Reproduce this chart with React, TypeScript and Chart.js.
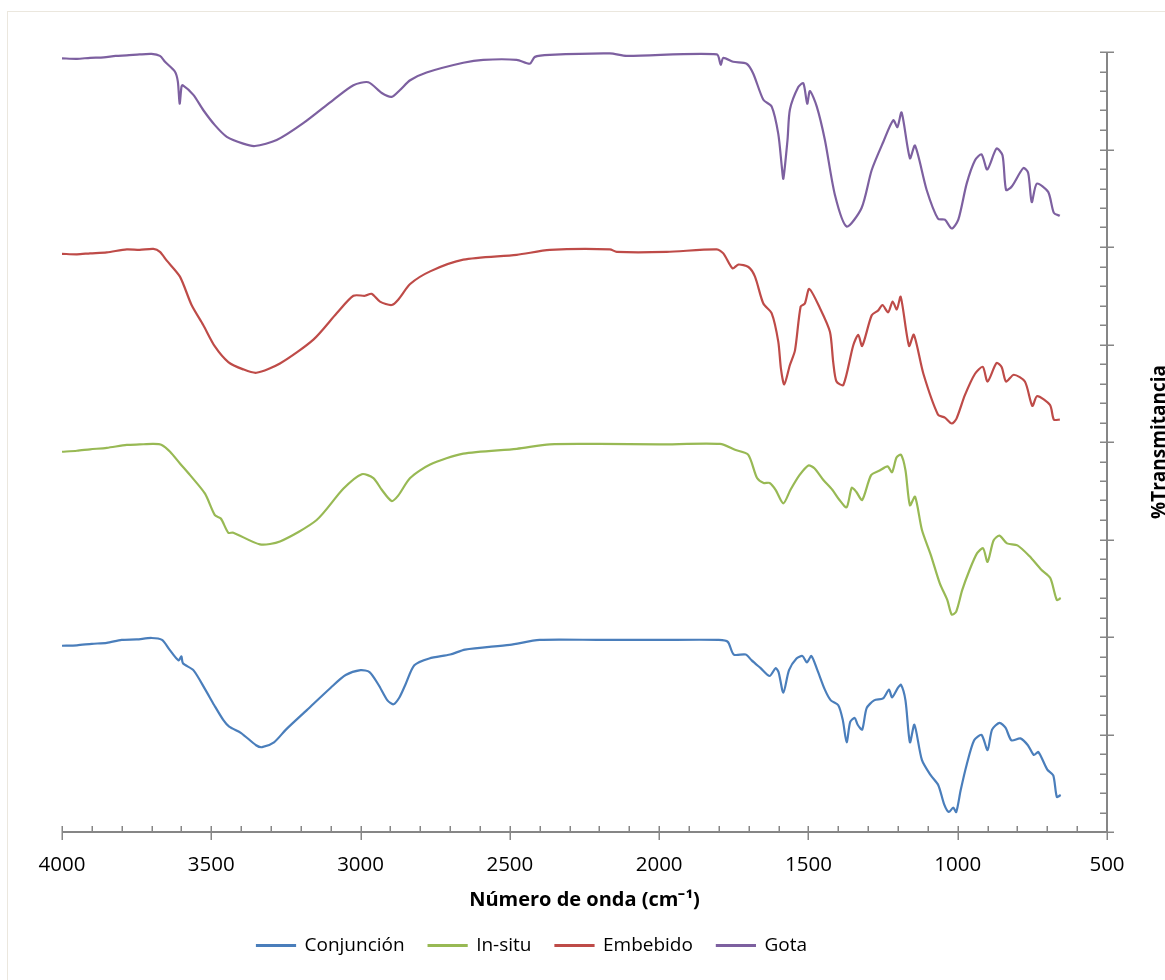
import React, { useEffect, useRef } from "react";
import { Chart, registerables } from "chart.js";

Chart.register(...registerables);

// ---------- DATA ----------
const SERIES_NAMES = ["Conjunción", "In-situ", "Embebido", "Gota"];
const SERIES_COLORS = ["#4a7ebb", "#98b954", "#be4b48", "#7d60a0"];

const X_MIN = 500;
const X_MAX = 4000;
const X_MAJOR = 500;
const X_MINOR = 100;
const Y_MIN = 0;
const Y_MAX = 80;
const Y_MAJOR = 10;
const Y_MINOR = 2;

const X_TITLE = "Número de onda (cm⁻¹)";
const Y_TITLE = "%Transmitancia";

const conjWn = [4000, 3950, 3900, 3850, 3800, 3750, 3700, 3665, 3640, 3610, 3600, 3595, 3560, 3520, 3490, 3460, 3440, 3400, 3350, 3330, 3290, 3250, 3180, 3100, 3050, 3000, 2970, 2940, 2910, 2890, 2870, 2850, 2820, 2770, 2700, 2650, 2500, 2400, 2200, 2000, 1800, 1770, 1750, 1710, 1690, 1660, 1630, 1610, 1600, 1584, 1565, 1540, 1520, 1505, 1490, 1470, 1445, 1425, 1400, 1385, 1372, 1360, 1345, 1335, 1320, 1305, 1280, 1250, 1230, 1220, 1200, 1190, 1175, 1160, 1145, 1120, 1090, 1065, 1045, 1030, 1015, 1005, 990, 970, 945, 920, 900, 885, 860, 840, 820, 790, 765, 745, 730, 700, 680, 668, 655];
const conjVal = [19.1, 19.15, 19.3, 19.4, 19.7, 19.75, 19.9, 19.7, 18.7, 17.6, 18.0, 17.3, 16.6, 14.6, 13.0, 11.5, 10.8, 10.15, 8.9, 8.7, 9.2, 10.5, 12.5, 14.8, 16.1, 16.6, 16.4, 15.1, 13.5, 13.1, 13.8, 15.1, 17.1, 17.8, 18.2, 18.7, 19.2, 19.7, 19.7, 19.7, 19.7, 19.5, 18.2, 18.2, 17.6, 16.8, 16.0, 16.8, 16.4, 14.3, 16.6, 17.8, 18.05, 17.4, 18.05, 16.6, 14.6, 13.5, 13.0, 11.5, 9.2, 11.3, 11.7, 11.0, 10.5, 12.7, 13.5, 13.7, 14.6, 13.8, 14.8, 15.1, 13.5, 9.2, 11.0, 7.4, 5.8, 4.8, 2.8, 2.05, 2.5, 2.05, 4.3, 6.9, 9.4, 9.95, 8.4, 10.5, 11.2, 10.7, 9.4, 9.6, 8.9, 7.9, 8.2, 6.4, 5.8, 3.6, 3.8];

const insituWn = [4000, 3950, 3906, 3850, 3783, 3740, 3694, 3666, 3638, 3605, 3571, 3521, 3488, 3468, 3443, 3426, 3337, 3270, 3147, 3058, 2996, 2957, 2929, 2896, 2874, 2834, 2767, 2656, 2477, 2366, 2200, 2000, 1796, 1746, 1702, 1672, 1650, 1630, 1610, 1584, 1560, 1530, 1500, 1480, 1450, 1420, 1396, 1372, 1355, 1340, 1320, 1290, 1260, 1235, 1220, 1205, 1190, 1175, 1160, 1143, 1120, 1090, 1060, 1035, 1020, 1005, 985, 960, 935, 915, 900, 880, 860, 835, 800, 760, 720, 690, 668, 655];
const insituVal = [39.0, 39.1, 39.25, 39.4, 39.7, 39.75, 39.8, 39.7, 39.0, 37.8, 36.6, 34.7, 32.5, 32.15, 30.7, 30.7, 29.5, 29.8, 32.0, 35.2, 36.7, 36.3, 35.1, 33.95, 34.5, 36.3, 37.7, 38.8, 39.3, 39.76, 39.8, 39.75, 39.8, 39.2, 38.7, 36.3, 35.8, 35.8, 35.1, 33.7, 35.1, 36.6, 37.6, 37.3, 36.1, 35.1, 34.05, 33.3, 35.3, 34.9, 34.05, 36.6, 37.1, 37.5, 36.9, 38.4, 38.7, 37.1, 33.5, 34.4, 31.0, 28.4, 25.5, 23.8, 22.3, 22.6, 24.8, 26.9, 28.6, 29.1, 27.7, 29.9, 30.4, 29.6, 29.4, 28.3, 26.9, 26.05, 23.8, 24.0];

const embWn = [4000, 3950, 3906, 3850, 3783, 3740, 3694, 3672, 3649, 3605, 3566, 3527, 3488, 3443, 3393, 3349, 3270, 3158, 3080, 3024, 2985, 2963, 2935, 2896, 2874, 2834, 2767, 2656, 2477, 2366, 2165, 2142, 1975, 1807, 1785, 1754, 1735, 1701, 1679, 1651, 1623, 1601, 1592, 1581, 1562, 1545, 1526, 1512, 1497, 1461, 1428, 1417, 1406, 1383, 1350, 1333, 1320, 1288, 1266, 1252, 1233, 1218, 1204, 1191, 1163, 1147, 1115, 1066, 1043, 1020, 1004, 976, 942, 916, 900, 870, 853, 838, 812, 775, 750, 734, 691, 678, 658];
const embVal = [59.3, 59.25, 59.35, 59.45, 59.76, 59.7, 59.8, 59.5, 58.6, 56.96, 54.05, 52.0, 49.8, 48.2, 47.45, 47.1, 48.05, 50.5, 53.2, 55.0, 55.0, 55.2, 54.4, 54.05, 54.6, 56.2, 57.5, 58.7, 59.2, 59.7, 59.76, 59.5, 59.5, 59.76, 59.35, 57.8, 58.2, 57.95, 56.96, 54.2, 53.2, 50.3, 47.5, 45.9, 47.9, 49.4, 53.9, 54.2, 55.7, 53.7, 51.3, 48.2, 46.2, 45.85, 49.9, 51.0, 49.85, 53.0, 53.5, 54.05, 53.3, 54.4, 53.6, 54.9, 49.85, 51.0, 47.0, 42.8, 42.5, 41.9, 42.4, 44.8, 47.0, 47.7, 46.2, 48.1, 47.7, 46.2, 46.9, 46.2, 43.7, 44.7, 43.8, 42.3, 42.3];

const gotaWn = [4000, 3950, 3906, 3860, 3820, 3783, 3740, 3700, 3672, 3655, 3622, 3612, 3606, 3600, 3596, 3560, 3527, 3488, 3448, 3393, 3354, 3281, 3192, 3091, 3024, 2974, 2929, 2896, 2868, 2834, 2779, 2656, 2589, 2477, 2433, 2416, 2366, 2165, 2109, 1807, 1794, 1785, 1752, 1707, 1685, 1651, 1623, 1601, 1589, 1584, 1570, 1562, 1534, 1517, 1504, 1495, 1472, 1445, 1411, 1372, 1322, 1288, 1249, 1216, 1202, 1188, 1160, 1143, 1104, 1066, 1043, 1020, 998, 970, 942, 920, 901, 870, 850, 838, 819, 780, 764, 752, 735, 697, 678, 658];
const gotaVal = [79.35, 79.3, 79.4, 79.45, 79.6, 79.65, 79.75, 79.8, 79.6, 79.0, 78.0, 76.96, 74.7, 76.4, 76.6, 75.6, 74.05, 72.5, 71.3, 70.6, 70.36, 70.97, 72.7, 75.1, 76.6, 76.9, 75.8, 75.4, 76.1, 77.1, 77.9, 78.9, 79.2, 79.2, 78.8, 79.5, 79.7, 79.85, 79.6, 79.75, 78.7, 79.4, 79.0, 78.8, 77.8, 75.1, 74.4, 71.6, 68.2, 67.0, 71.0, 74.1, 76.4, 76.8, 74.7, 76.0, 74.4, 71.0, 65.3, 62.1, 64.0, 67.9, 70.8, 73.0, 72.3, 73.8, 69.1, 70.4, 65.85, 62.9, 62.8, 61.9, 62.8, 66.5, 68.9, 69.5, 67.95, 70.1, 69.4, 65.85, 66.2, 68.1, 67.6, 64.6, 66.5, 65.65, 63.5, 63.2];

const SERIES_WN = [conjWn, insituWn, embWn, gotaWn];
const SERIES_VAL = [conjVal, insituVal, embVal, gotaVal];

// ---------- STYLE ----------
const AXIS_COLOR = "#868686";
const FONT = "'Open Sans', 'Liberation Sans', sans-serif";
const LEGEND_START_X = 257;

const customAxes = {
  id: "customAxes",
  afterLayout(chart: any) {
    const lg = chart.legend;
    if (lg && lg.lineWidths) {
      const lw = lg.lineWidths[0];
      const pad = lg.options.labels.padding;
      lg.left = 0;
      lg.right = 2 * LEGEND_START_X + lw - pad;
    }
  },
  afterDraw(chart: any) {
    const { ctx, scales } = chart;
    const xs = scales.x;
    const ys = scales.y;
    const yb = Math.round(ys.getPixelForValue(Y_MIN));
    const yt = Math.round(ys.getPixelForValue(Y_MAX));
    const xl = Math.round(xs.getPixelForValue(X_MAX));
    const xr = Math.round(xs.getPixelForValue(X_MIN));
    ctx.save();
    ctx.strokeStyle = AXIS_COLOR;
    ctx.lineWidth = 2;
    ctx.beginPath();
    ctx.moveTo(xl, yb);
    ctx.lineTo(xr + 1, yb);
    ctx.moveTo(xr, yb);
    ctx.lineTo(xr, yt);
    ctx.stroke();
    ctx.lineWidth = 1.5;
    ctx.beginPath();
    for (let v = X_MIN; v <= X_MAX + 0.001; v += X_MINOR) {
      const px = Math.round(xs.getPixelForValue(v)) + 0.25;
      const major = Math.abs(v % X_MAJOR) < 0.001;
      ctx.moveTo(px, yb - 6);
      ctx.lineTo(px, major ? yb + 8 : yb);
    }
    for (let v = Y_MIN; v <= Y_MAX + 0.001; v += Y_MINOR) {
      const py = Math.round(ys.getPixelForValue(v)) + 0.25;
      const major = Math.abs(v % Y_MAJOR) < 0.001;
      ctx.moveTo(xr - 7, py);
      ctx.lineTo(major ? xr + 7 : xr, py);
    }
    ctx.stroke();
    // right-hand y title (reads bottom to top)
    ctx.fillStyle = "#000";
    ctx.font = `bold 19px ${FONT}`;
    ctx.textAlign = "center";
    ctx.textBaseline = "alphabetic";
    ctx.translate(1165, (yb + yt) / 2);
    ctx.rotate(-Math.PI / 2);
    ctx.fillText(Y_TITLE, 0, 0);
    ctx.restore();
  },
};

export default function App() {
  const canvasRef = useRef<HTMLCanvasElement | null>(null);

  useEffect(() => {
    if (!canvasRef.current) return;
    const datasets = SERIES_NAMES.map((name, i) => ({
      label: name,
      data: SERIES_WN[i].map((w, j) => ({ x: w, y: SERIES_VAL[i][j] })),
      borderColor: SERIES_COLORS[i],
      backgroundColor: SERIES_COLORS[i],
      borderWidth: 2.2,
      pointRadius: 0,
      tension: 0.25,
      fill: false,
    }));
    const chart = new Chart(canvasRef.current, {
      type: "line",
      data: { datasets },
      plugins: [customAxes],
      options: {
        animation: false,
        responsive: false,
        maintainAspectRatio: false,
        layout: { padding: { left: 62, top: 52, right: 0, bottom: 15 } },
        plugins: {
          legend: {
            position: "bottom",
            labels: {
              boxWidth: 38,
              boxHeight: 1,
              padding: 24,
              color: "#000",
              font: { family: FONT, size: 19 },
            },
          },
          tooltip: { enabled: false },
        },
        scales: {
          x: {
            type: "linear",
            reverse: true,
            min: X_MIN,
            max: X_MAX,
            grid: { display: false, drawTicks: false },
            border: { display: false },
            ticks: {
              stepSize: X_MAJOR,
              color: "#000",
              font: { family: FONT, size: 20.5 },
              padding: 21,
              maxRotation: 0,
              autoSkip: false,
              callback: (v: any) => String(v),
            },
            title: {
              display: true,
              text: X_TITLE,
              color: "#000",
              font: { family: FONT, size: 20, weight: "bold" },
              padding: { top: 0, bottom: 0 },
            },
            afterFit: (s: any) => {
              s.height = 80;
            },
          },
          y: {
            type: "linear",
            position: "right",
            min: Y_MIN,
            max: Y_MAX,
            grid: { display: false, drawTicks: false },
            border: { display: false },
            ticks: { display: false },
            afterFit: (s: any) => {
              s.width = 58;
            },
          },
        },
      },
    });
    return () => chart.destroy();
  }, []);

  return (
    <div style={{ position: "absolute", left: 0, top: 0, width: 1165, height: 980, overflow: "hidden", background: "#fff" }}>
      <div style={{ position: "absolute", left: 7, top: 11, width: 1200, height: 1000, border: "1px solid #ebe7de" }} />
      <canvas ref={canvasRef} width={1165} height={980} style={{ position: "absolute", left: 0, top: 0, width: 1165, height: 980 }} />
    </div>
  );
}
